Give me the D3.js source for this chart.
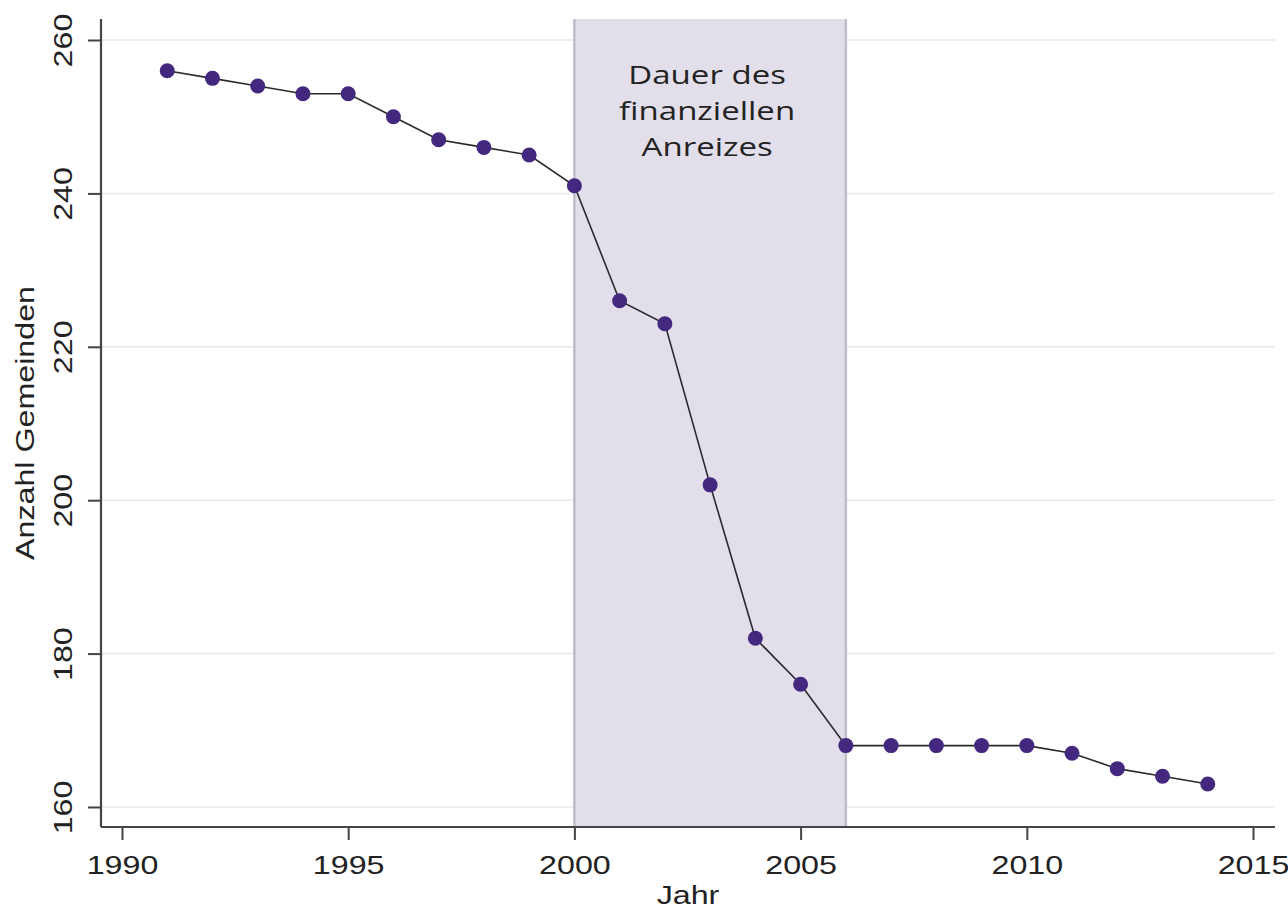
<!DOCTYPE html>
<html><head><meta charset="utf-8">
<script src="https://cdn.jsdelivr.net/npm/d3@7"></script>
<style>body{margin:0;background:#fff}svg{display:block}</style>
</head><body>
<svg id="c" width="1288" height="911"></svg>
<script>
const years = [1991,1992,1993,1994,1995,1996,1997,1998,1999,2000,2001,2002,2003,2004,2005,2006,2007,2008,2009,2010,2011,2012,2013,2014];
const counts = [256,255,254,253,253,250,247,246,245,241,226,223,202,182,176,168,168,168,168,168,167,165,164,163];
const xTicks = [1990,1995,2000,2005,2010,2015];
const yTicks = [160,180,200,220,240,260];
const incentive = [2000,2006];
const annotationLines = ["Dauer des","finanziellen","Anreizes"];
const xLabel = "Jahr", yLabel = "Anzahl Gemeinden";

const L=101,R=1275,T=19,B=827;
const x = d3.scaleLinear().domain([1989.536,2015.486]).range([L,R]);
const y = d3.scaleLinear().domain([157.39,262.74]).range([B,T]);
const svg = d3.select("#c");
const SX = 1.24;
const FS = 26;
const axisFont = "'Liberation Sans', Arial, sans-serif";

// gridlines
svg.append("g").selectAll("line").data(yTicks).join("line")
  .attr("x1",L).attr("x2",R).attr("y1",d=>y(d)).attr("y2",d=>y(d))
  .attr("stroke","#e8e8e8").attr("stroke-width",1.5);

// shaded period
svg.append("rect").attr("x",x(incentive[0])).attr("y",T)
  .attr("width",x(incentive[1])-x(incentive[0])).attr("height",B-T)
  .attr("fill","#e2dfeb");
svg.append("g").selectAll("line").data(incentive).join("line")
  .attr("x1",d=>x(d)).attr("x2",d=>x(d)).attr("y1",T).attr("y2",B)
  .attr("stroke","#bfbdc9").attr("stroke-width",2.5);

// annotation
const ann = svg.append("g").attr("font-family","'Open Sans', 'Noto Sans', sans-serif")
  .attr("font-size",26).attr("fill","#222");
annotationLines.forEach((t,i)=>{
  ann.append("text").attr("transform",`translate(${(x(incentive[0])+x(incentive[1]))/2 - 3},${84+i*36}) scale(1.27,1)`)
    .attr("text-anchor","middle").text(t);
});

// line + points
const data = years.map((d,i)=>({year:d,v:counts[i]}));
svg.append("path").datum(data)
  .attr("d",d3.line().x(d=>x(d.year)).y(d=>y(d.v)))
  .attr("fill","none").attr("stroke","#2a2a2a").attr("stroke-width",1.6);
svg.append("g").selectAll("circle").data(data).join("circle")
  .attr("cx",d=>x(d.year)).attr("cy",d=>y(d.v)).attr("r",7.5).attr("fill","#44287f");

// axes
const xAxis = svg.append("g").attr("transform",`translate(0,${B})`)
  .call(d3.axisBottom(x).tickValues(xTicks).tickSize(13).tickFormat(d3.format("d")));
const yAxis = svg.append("g").attr("transform",`translate(${L},0)`)
  .call(d3.axisLeft(y).tickValues(yTicks).tickSize(13));
[xAxis,yAxis].forEach(a=>{
  a.select(".domain").attr("stroke","#444").attr("stroke-width",2.2);
  a.selectAll(".tick line").attr("stroke","#444").attr("stroke-width",2);
  a.selectAll(".tick text").attr("font-family",axisFont).attr("font-size",FS).attr("fill","#222");
});
xAxis.select(".domain").attr("d",`M${L},0H${R}`);
yAxis.select(".domain").attr("d",`M0,${T}V${B}`);
xAxis.selectAll(".tick text").attr("y",null).attr("dy",null)
  .attr("transform",`translate(0,47) scale(${SX},1)`);
yAxis.selectAll(".tick text").attr("x",null).attr("dy",null).attr("text-anchor","middle")
  .attr("transform",`translate(-29,0) rotate(-90) scale(${SX},1)`);

// axis titles
svg.append("text").attr("transform",`translate(${(L+R)/2},904) scale(${SX},1)`)
  .attr("text-anchor","middle").attr("font-family",axisFont).attr("font-size",FS).attr("fill","#222").text(xLabel);
svg.append("text").attr("transform",`translate(34,${(T+B)/2}) rotate(-90) scale(${SX},1)`)
  .attr("text-anchor","middle").attr("font-family",axisFont).attr("font-size",FS).attr("fill","#222").text(yLabel);
</script>
</body></html>
